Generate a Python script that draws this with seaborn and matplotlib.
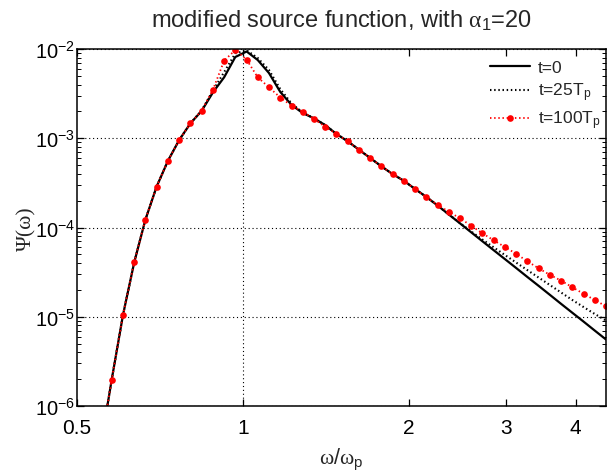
import matplotlib
matplotlib.use("Agg")
import matplotlib.pyplot as plt
import seaborn as sns
import pandas as pd
from matplotlib.ticker import FixedLocator, FixedFormatter, LogLocator, NullFormatter, NullLocator

# ---------------- data ----------------
omega = [0.553, 0.579, 0.607, 0.636, 0.666, 0.698, 0.732, 0.767, 0.804, 0.842,
         0.883, 0.925, 0.969, 1.016, 1.064, 1.115, 1.169, 1.225, 1.283, 1.345,
         1.409, 1.477, 1.548, 1.622, 1.700, 1.781, 1.866, 1.956, 2.050, 2.148,
         2.251, 2.358, 2.472, 2.590, 2.714, 2.844, 2.980, 3.123, 3.273, 3.430,
         3.594, 3.766, 3.947, 4.136, 4.334, 4.542]

psi_t0 = [3.55e-7, 1.97e-6, 1.054e-5, 4.07e-5, 1.213e-4, 2.86e-4, 5.60e-4, 9.55e-4, 1.472e-3, 2.02e-3,
          3.27e-3, 4.82e-3, 8.13e-3, 9.38e-3, 7.53e-3, 5.38e-3, 3.30e-3, 2.36e-3, 1.92e-3, 1.671e-3,
          1.406e-3, 1.117e-3, 9.25e-4, 7.45e-4, 6.01e-4, 4.85e-4, 3.97e-4, 3.34e-4, 2.70e-4, 2.20e-4,
          1.766e-4, 1.403e-4, 1.112e-4, 8.83e-5, 7.01e-5, 5.57e-5, 4.43e-5, 3.52e-5, 2.79e-5, 2.22e-5,
          1.762e-5, 1.396e-5, 1.109e-5, 8.83e-6, 7.00e-6, 5.56e-6]

psi_t25 = [3.55e-7, 1.97e-6, 1.054e-5, 4.07e-5, 1.213e-4, 2.86e-4, 5.60e-4, 9.55e-4, 1.472e-3, 2.04e-3,
           3.43e-3, 5.50e-3, 8.91e-3, 9.66e-3, 7.94e-3, 5.82e-3, 3.55e-3, 2.45e-3, 1.95e-3, 1.671e-3,
           1.406e-3, 1.117e-3, 9.25e-4, 7.45e-4, 6.01e-4, 4.85e-4, 3.97e-4, 3.34e-4, 2.70e-4, 2.20e-4,
           1.766e-4, 1.403e-4, 1.122e-4, 9.02e-5, 7.33e-5, 6.00e-5, 4.92e-5, 4.05e-5, 3.33e-5, 2.75e-5,
           2.27e-5, 1.871e-5, 1.542e-5, 1.285e-5, 1.074e-5, 9.08e-6]

psi_t100 = [3.55e-7, 1.97e-6, 1.054e-5, 4.07e-5, 1.213e-4, 2.86e-4, 5.60e-4, 9.55e-4, 1.472e-3, 2.04e-3,
            3.50e-3, 7.40e-3, 9.75e-3, 7.59e-3, 4.82e-3, 3.72e-3, 2.86e-3, 2.32e-3, 1.99e-3, 1.644e-3,
            1.346e-3, 1.117e-3, 9.25e-4, 7.45e-4, 6.01e-4, 4.85e-4, 3.97e-4, 3.34e-4, 2.70e-4, 2.18e-4,
            1.80e-4, 1.503e-4, 1.268e-4, 1.047e-4, 8.61e-5, 7.19e-5, 6.05e-5, 5.08e-5, 4.18e-5, 3.49e-5,
            2.95e-5, 2.54e-5, 2.14e-5, 1.81e-5, 1.54e-5, 1.31e-5]

series_labels = ["t=0", r"t=25$\mathrm{T}_\mathrm{p}$", r"t=100$\mathrm{T}_\mathrm{p}$"]
x_ticks = [0.5, 1, 2, 3, 4]
x_tick_labels = ["0.5", "1", "2", "3", "4"]
y_limits = [1e-6, 1e-2]
title_text = r"modified source function, with $\alpha_1$=20"
x_label = r"$\omega$/$\omega_\mathrm{p}$"
y_label = "Ψ(ω)"

# ---------------- style ----------------
sns.set_style("ticks")
plt.rcParams["font.family"] = ["Liberation Sans", "DejaVu Sans"]
plt.rcParams["mathtext.fontset"] = "custom"
plt.rcParams["mathtext.rm"] = "Liberation Sans"
plt.rcParams["mathtext.it"] = "Liberation Serif"
plt.rcParams["mathtext.default"] = "it"
plt.rcParams["axes.unicode_minus"] = False

fig = plt.figure(figsize=(6.08, 4.77), dpi=100)
ax = fig.add_axes([76.5 / 608, 70 / 477, (606 - 76.5) / 608, (407 - 50) / 477])

df = pd.DataFrame({"omega": omega, "t0": psi_t0, "t25": psi_t25, "t100": psi_t100})

sns.lineplot(data=df, x="omega", y="t0", ax=ax, color="black", lw=1.6,
             sort=False, estimator=None, label=series_labels[0])
sns.lineplot(data=df, x="omega", y="t25", ax=ax, color="black", lw=1.5,
             linestyle=(0, (0.7, 1.3)), sort=False, estimator=None, label=series_labels[1])
sns.lineplot(data=df, x="omega", y="t100", ax=ax, color="red", lw=1.3,
             linestyle=(0, (0.8, 1.5)), marker="o", markersize=4.8, markeredgewidth=0,
             sort=False, estimator=None, label=series_labels[2])

ax.set_xscale("log")
ax.set_yscale("log")
ax.set_xlim(0.5, omega[-1])
ax.set_ylim(*y_limits)

ax.xaxis.set_major_locator(FixedLocator(x_ticks))
ax.xaxis.set_major_formatter(FixedFormatter(x_tick_labels))
ax.xaxis.set_minor_locator(NullLocator())
ax.yaxis.set_major_locator(LogLocator(base=10, numticks=10))
ax.yaxis.set_minor_locator(LogLocator(base=10, subs=range(2, 10), numticks=20))
ax.yaxis.set_minor_formatter(NullFormatter())

ax.yaxis.grid(True, which="major", linestyle=(0, (1, 2.5)), color="black", lw=0.8)
ax.axvline(1, linestyle=(0, (1, 2.5)), color="black", lw=0.8, zorder=0.5)

ax.tick_params(which="both", direction="in", top=True, right=True, colors="black")
ax.tick_params(which="major", length=5, width=0.9)
ax.tick_params(which="minor", length=3, width=0.7)
ax.tick_params(axis="x", which="major", pad=9, labelsize=15)
ax.tick_params(axis="y", which="major", pad=1, labelsize=14.5)
for sp in ax.spines.values():
    sp.set_color("black")
    sp.set_linewidth(1.1)

ax.set_title(title_text, fontsize=17, pad=16)
ax.set_xlabel(x_label, fontsize=15.5, labelpad=6)
ax.set_ylabel(y_label, fontsize=15.5, family=["Liberation Serif", "DejaVu Serif"], labelpad=-1)

leg = ax.legend(loc="upper right", frameon=False, fontsize=12.5, handlelength=2.3,
                handletextpad=0.45, labelspacing=0.35, borderaxespad=0.0, borderpad=0.3,
                bbox_to_anchor=(1.0, 0.985))

fig.savefig("out.png", dpi=100)
